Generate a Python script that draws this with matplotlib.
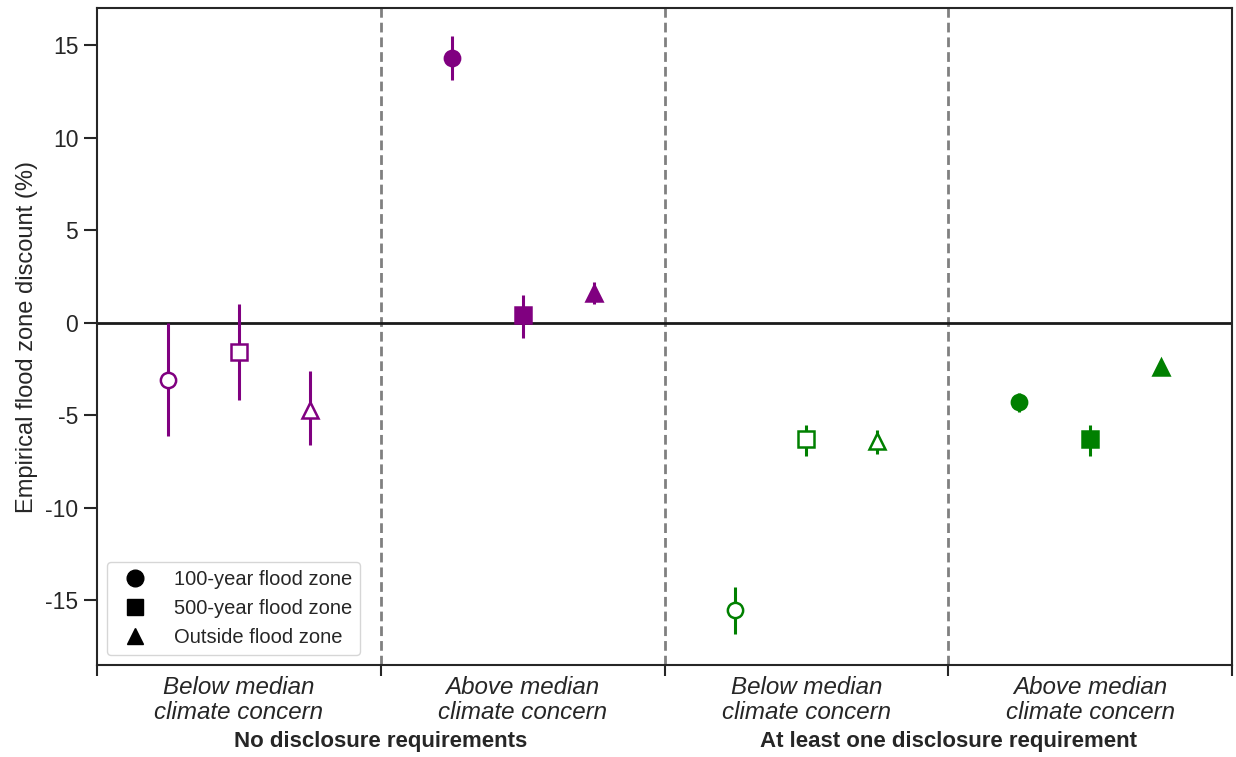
import matplotlib.pyplot as plt
from matplotlib.lines import Line2D
from matplotlib.transforms import blended_transform_factory

plt.rcParams['font.family'] = ['Liberation Sans', 'DejaVu Sans']
plt.rcParams['axes.unicode_minus'] = False
plt.rcParams['text.color'] = '#262626'
plt.rcParams['axes.labelcolor'] = '#262626'
plt.rcParams['xtick.color'] = '#262626'
plt.rcParams['ytick.color'] = '#262626'

# estimates per group: 100-year, 500-year, outside flood zone
zones = ['100-year flood zone', '500-year flood zone', 'Outside flood zone']
markers = ['o', 's', '^']
concern = ['Below median\nclimate concern', 'Above median\nclimate concern',
           'Below median\nclimate concern', 'Above median\nclimate concern']
regimes = ['No disclosure requirements', 'At least one disclosure requirement']

est = [[-3.1, -1.6, -4.7],
       [14.3, 0.4, 1.6],
       [-15.5, -6.3, -6.4],
       [-4.3, -6.3, -2.4]]
lo = [[-6.1, -4.2, -6.6],
      [13.1, -0.8, 1.0],
      [-16.8, -7.2, -7.1],
      [-4.8, -7.2, -2.6]]
hi = [[0.0, 1.0, -2.6],
      [15.5, 1.5, 2.2],
      [-14.3, -5.5, -5.8],
      [-3.8, -5.5, -2.2]]
group_color = ['purple', 'purple', 'green', 'green']
group_filled = [False, True, False, True]

fig, ax = plt.subplots(figsize=(12.36, 7.57), dpi=100)
fig.subplots_adjust(left=0.0785, right=0.9968, top=0.989, bottom=0.1215)

for g in range(4):
    c = group_color[g]
    for k in range(3):
        x = g + 0.25 * (k + 1)
        y = est[g][k]
        ax.errorbar(x, y, yerr=[[y - lo[g][k]], [hi[g][k] - y]],
                    fmt=markers[k], color=c, ecolor=c, elinewidth=2.2,
                    capsize=0, markersize=11, markeredgewidth=1.8,
                    markerfacecolor=c if group_filled[g] else 'white',
                    markeredgecolor=c, zorder=3)

ax.axhline(0, color='#1a1a1a', lw=2.0, zorder=2)
for xv in [1, 2, 3]:
    ax.axvline(xv, color='gray', lw=2.0, ls=(0, (3.5, 1.8)), zorder=1)

ax.set_xlim(0, 4)
ax.set_ylim(-18.5, 17)
ax.set_yticks([-15, -10, -5, 0, 5, 10, 15])
ax.set_ylabel('Empirical flood zone discount (%)', fontsize=17, labelpad=5)
ax.tick_params(axis='y', labelsize=16.5, length=9.5, width=1.5, pad=4)

ax.set_xticks([0, 1, 2, 3, 4])
ax.set_xticklabels([])
ax.tick_params(axis='x', which='major', length=8, width=1.5)
ax.set_xticks([0.5, 1.5, 2.5, 3.5], minor=True)
ax.set_xticklabels(concern, minor=True, fontsize=17.4, style='italic',
                   linespacing=1.12)
ax.tick_params(axis='x', which='minor', length=0, pad=8)

for s in ax.spines.values():
    s.set_linewidth(1.5)
    s.set_color('#262626')

tr = blended_transform_factory(ax.transData, fig.transFigure)
ax.text(1, 1 - 741 / 757, regimes[0], transform=tr, ha='center', va='center',
        fontsize=16, fontweight='bold')
ax.text(3, 1 - 741 / 757, regimes[1], transform=tr, ha='center', va='center',
        fontsize=16, fontweight='bold')

handles = [Line2D([], [], ls='none', marker=m, color='black', markersize=12)
           for m in markers]
leg = ax.legend(handles, zones, loc='lower left', fontsize=14.5,
                frameon=True, borderpad=0.4, handletextpad=0.9,
                labelspacing=0.5, bbox_to_anchor=(0.0, 0.0))
leg.get_frame().set_edgecolor('#cccccc')

fig.savefig('out.png', dpi=100)
